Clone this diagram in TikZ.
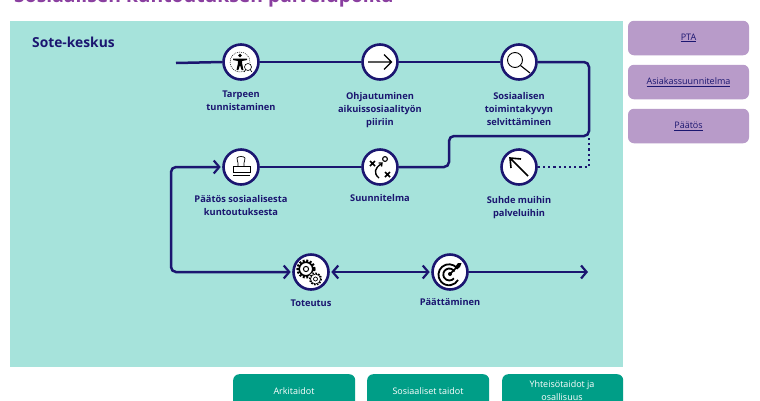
\documentclass[tikz,border=0pt]{standalone}
\usepackage{fontspec}
\setmainfont{Open Sans}
\usetikzlibrary{arrows.meta,calc}
\definecolor{panel}{HTML}{A6E3DB}
\definecolor{navy}{HTML}{1B1670}
\definecolor{lilac}{HTML}{B89BC9}
\definecolor{teal2}{HTML}{009E87}
\definecolor{titlep}{HTML}{8A3FA0}
\tikzset{
  x=1pt,y=-1pt,
  stepnode/.style={circle,draw=navy,line width=2.6pt,fill=white,minimum size=35pt,inner sep=0pt},
  lab/.style={anchor=north,inner sep=0pt,align=center,text=navy,font=\fontsize{9.3}{13.2}\selectfont\bfseries},
  flow/.style={draw=navy,line width=2.5pt,rounded corners=5pt},
  barb/.tip={Straight Barb[length=5.5pt,width=13pt,line width=2.2pt]},
  tip/.style={-barb},
  dots/.style={draw=navy,line width=2.5pt,dash pattern=on 2.2pt off 3pt},
  sidebox/.style={rounded corners=6pt,fill=lilac,minimum width=121pt,minimum height=34.5pt,inner sep=0pt,text=navy,font=\fontsize{9}{12}\selectfont},
  skillbox/.style={rounded corners=6pt,fill=teal2,minimum width=122pt,anchor=north west,minimum height=40pt,inner sep=0pt},
  skilltxt/.style={text=white,inner sep=0pt,align=center,font=\fontsize{9}{13}\selectfont},
  ico/.style={draw=black,line width=0.9pt},
}
\begin{document}
\begin{tikzpicture}
\useasboundingbox (0,0) rectangle (760,400);
\clip (0,0) rectangle (760,400);
\fill[white] (0,0) rectangle (760,400);
\node[anchor=base west,inner sep=0pt,text=titlep,font=\fontsize{19.3}{22}\selectfont\bfseries] (title) at (14,2) {Sosiaalisen kuntoutuksen palvelupolku};
\fill[panel] (10,21) rectangle (623,367);
\node[anchor=base west,inner sep=0pt,text=navy,font=\fontsize{13.8}{16}\selectfont\bfseries] (sote) at (32,47) {Sote-keskus};
% side boxes
\node[sidebox] (pta) at (688.5,38) {\underline{PTA}};
\node[sidebox] (asiakas) at (688.5,82) {\underline{Asiakassuunnitelma}};
\node[sidebox] (paatosb) at (688.5,126) {\underline{Päätös}};
% skill boxes
\node[skillbox] (ark) at (233,374) {};
\node[skillbox] (sos) at (367,374) {};
\node[skillbox,minimum width=121pt] (yht) at (502,374) {};
\node[skilltxt] (arkt) at (294,391.5) {Arkitaidot};
\node[skilltxt] (sost) at (428,391.5) {Sosiaaliset taidot};
\node[skilltxt,anchor=north] (yhtt) at (562,380.5) {Yhteisötaidot ja\\osallisuus};
% steps
\node[stepnode] (n1) at (241,62) {};
\node[stepnode] (n2) at (380,62) {};
\node[stepnode] (n3) at (519,62) {};
\node[stepnode] (n4) at (241,167) {};
\node[stepnode] (n5) at (380,167) {};
\node[stepnode] (n6) at (519,167) {};
\node[stepnode] (n7) at (311,272) {};
\node[stepnode] (n8) at (450,272) {};
% free ends
\coordinate (start) at (176,63);
\coordinate (end) at (588,272);
\coordinate (tr) at (589,136);
% connectors
\draw[dots] (n6.east) -- (589,167) -- (tr);
\draw[flow] (start) -- (n1.west);
\draw[flow] (n1) -- (n2);
\draw[flow] (n2) -- (n3);
\draw[flow] (n3.east) -- (589,62) -- (tr) -- (449,136) -- (449,167) -- (n5.east);
\draw[flow] (n5.west) -- (n4.east);
\draw[flow,barb-barb] ($(n4.west)+(-1.5,0)$) -- (171,167) -- (171,272) -- ($(n7.west)+(-1.5,0)$);
\draw[flow,barb-barb] ($(n7.east)+(1.5,0)$) -- ($(n8.west)+(-1.5,0)$);
\draw[flow,tip] (n8.east) -- (end);
% labels
\node[lab] (l1) at (241,90.5) {Tarpeen\\tunnistaminen};
\node[lab] (l2) at (380,92) {Ohjautuminen\\aikuissosiaalityön\\piiriin};
\node[lab] (l3) at (519,92) {Sosiaalisen\\toimintakyvyn\\selvittäminen};
\node[lab] (l4) at (241,195) {Päätös sosiaalisesta\\kuntoutuksesta};
\node[lab] (l5) at (380,194.5) {Suunnitelma};
\node[lab] (l6) at (519,196) {Suhde muihin\\palveluihin};
\node[lab] (l7) at (311,300) {Toteutus};
\node[lab] (l8) at (450,298.5) {Päättäminen};
% icon 1: person in dotted circle + magnifier
\begin{scope}[shift={(240,62)}]
  \draw[black,line width=0.5pt,dash pattern=on 1pt off 1pt] (0,0) circle (10);
  \fill[black] (0,-6.5) circle (1.8);
  \fill[black] (-7,-3.5) -- (7,-3.5) -- (7,-2) -- (2.2,-1) -- (2.2,2) -- (3.5,8) -- (1.6,8) -- (0,3) -- (-1.6,8) -- (-3.5,8) -- (-2.2,2) -- (-2.2,-1) -- (-7,-2) -- cycle;
  \fill[white] (8,5) circle (5);
  \draw[black,line width=0.6pt] (8,5) circle (3.5);
  \draw[black,line width=0.6pt] (5.5,8) -- (4,10) (10.5,8) -- (12,10);
\end{scope}
% icon 2: arrow right
\draw[ico,line width=1.1pt] (368,62) -- (391,62) (384,54.5) -- (391.5,62) -- (384,69.5);
% icon 3: magnifier
\draw[ico] (515,60) circle (7.5);
\draw[ico,line width=1.1pt] (520.5,65.5) -- (530,73);
% icon 4: stamp
\begin{scope}[shift={(241,167)}]
  \draw[ico,line width=0.7pt] (-3,-1) .. controls (-2,-5) and (-5,-7) .. (-4,-9) .. controls (-3,-11) and (3,-11) .. (4,-9) .. controls (5,-7) and (2,-5) .. (3,-1);
  \draw[ico,line width=0.7pt,fill=white] (-8,-1) rectangle (9,5);
  \draw[ico,line width=0.9pt] (-8,8) -- (9,8);
\end{scope}
% icon 5: plan
\begin{scope}[shift={(380,167)}]
  \draw[black,line width=1.6pt] (-10,-6) -- (-5,-1) (-10,-1) -- (-5,-6);
  \draw[black,line width=1.6pt] (5,5) -- (10,10) (5,10) -- (10,5);
  \draw[black,line width=1.1pt] (5,-8) circle (2.4);
  \draw[black,line width=1.4pt] (-1,11) .. controls (-7,6) and (-5,1) .. (1,-3);
  \draw[black,line width=1.4pt] (-1.5,-4) -- (2,-4) -- (1.5,-0.5);
\end{scope}
% icon 7: gears
\begin{scope}[shift={(306,269)}]
  \draw[black,line width=2.4pt,dash pattern=on 2pt off 1.6pt] (0,0) circle (8.4);
  \draw[black,line width=1.6pt] (0,0) circle (6.8);
  \draw[black,line width=1pt] (0,0) circle (2.6);
\end{scope}
\begin{scope}[shift={(315.5,279)}]
  \fill[white] (0,0) circle (7);
  \draw[black,line width=1.3pt,dash pattern=on 1.6pt off 1.4pt] (0,0) circle (5.8);
  \draw[black,line width=0.7pt] (0,0) circle (5);
  \draw[black,line width=0.7pt] (0,0) circle (2);
\end{scope}
% icon 8: target
\begin{scope}[shift={(450,274)}]
  \draw[black,line width=1.8pt] (7,-6) arc (-40:-330:10.5);
  \draw[black,line width=1.8pt] (4.5,-2.5) arc (-30:-320:6);
  \fill[black] (0,0) circle (2);
  \draw[black,line width=1.5pt] (0,0) -- (8,-8);
  \fill[black] (5,-7) -- (8,-11) -- (11.5,-11) -- (10,-7) -- (7,-4.5) -- cycle;
\end{scope}
% icon 6: arrow up-left
\draw[ico,line width=1.6pt] (528,176) -- (510,158) (511,168) -- (510,158) -- (521,159);
\end{tikzpicture}
\end{document}
